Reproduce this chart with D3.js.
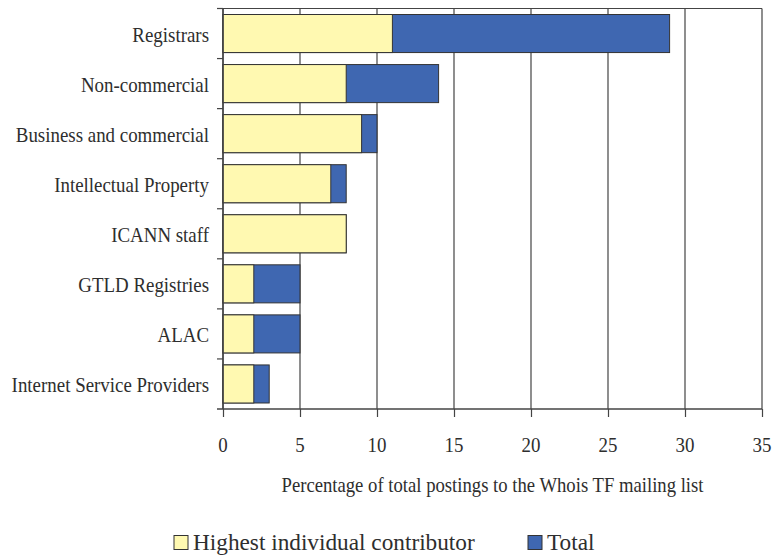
<!DOCTYPE html>
<html><head><meta charset="utf-8">
<script src="https://cdn.jsdelivr.net/npm/d3@7/dist/d3.min.js"></script>
<style>html,body{margin:0;padding:0;background:#fff;}svg{display:block;}</style>
</head><body>
<svg id="chart" width="780" height="556"></svg>
<script>
const categories = ["Registrars","Non-commercial","Business and commercial","Intellectual Property","ICANN staff","GTLD Registries","ALAC","Internet Service Providers"];
const highest = [11, 8, 9, 7, 8, 2, 2, 2];
const total = [29, 14, 10, 8, 8, 5, 5, 3];
const xTicks = [0, 5, 10, 15, 20, 25, 30, 35];
const seriesNames = ["Highest individual contributor", "Total"];
const xTitle = "Percentage of total postings to the Whois TF mailing list";

const colors = {highest: "#FFF9B1", total: "#3F67B1", stroke: "#333", grid: "#444", text: "#2e2e2e"};
const font = "'Liberation Serif','Times New Roman',serif";

const svg = d3.select("#chart");
const pLeft = 223, pRight = 762, pTop = 8.5, pBottom = 409;

const x = d3.scaleLinear().domain([0, 35]).range([pLeft, pRight]);
const y = d3.scaleBand().domain(categories).range([pTop, pBottom]).paddingInner(0.24).paddingOuter(0.12);
const yb = d3.scaleBand().domain(categories).range([pTop, pBottom]);

function txt(g, x0, y0, s, size, sx, anchor) {
  return g.append("text").attr("transform", `translate(${x0},${y0}) scale(${sx},1)`)
    .attr("text-anchor", anchor).attr("font-family", font).attr("font-size", size)
    .attr("fill", colors.text).text(s);
}

// gridlines
svg.append("g").selectAll("line").data(xTicks).join("line")
  .attr("x1", d => x(d)).attr("x2", d => x(d)).attr("y1", pTop).attr("y2", pBottom)
  .attr("stroke", colors.grid).attr("stroke-width", 1.2);
// top border
svg.append("line").attr("x1", pLeft).attr("x2", pRight).attr("y1", pTop).attr("y2", pTop)
  .attr("stroke", colors.grid).attr("stroke-width", 1.2);

// bars
const bars = svg.append("g");
bars.selectAll("rect.total").data(categories).join("rect").attr("class","total")
  .attr("x", x(0)).attr("y", d => y(d)).attr("height", y.bandwidth())
  .attr("width", (d,i) => x(total[i]) - x(0))
  .attr("fill", colors.total).attr("stroke", colors.stroke).attr("stroke-width", 1);
bars.selectAll("rect.high").data(categories).join("rect").attr("class","high")
  .attr("x", x(0)).attr("y", d => y(d)).attr("height", y.bandwidth())
  .attr("width", (d,i) => x(highest[i]) - x(0))
  .attr("fill", colors.highest).attr("stroke", colors.stroke).attr("stroke-width", 1);

// x axis
const xa = svg.append("g").attr("transform", `translate(0,${pBottom})`)
  .call(d3.axisBottom(x).tickValues(xTicks).tickSize(8).tickFormat(""));
xa.select(".domain").attr("stroke", colors.grid).attr("stroke-width", 1.5).attr("d", `M${pLeft-6},0H${pRight}`);
xa.selectAll(".tick line").attr("stroke", colors.grid).attr("stroke-width", 1.2);
xTicks.forEach(t => txt(svg, x(t), 452, String(t), 22, 0.86, "middle"));

// y axis
const ya = svg.append("g").attr("transform", `translate(${pLeft},0)`)
  .call(d3.axisLeft(yb).tickSize(0).tickFormat(""));
ya.select(".domain").attr("stroke", colors.grid).attr("stroke-width", 1.5).attr("d", `M0,${pTop}V${pBottom}`);
const yTickPos = categories.map(c => yb(c));
svg.append("g").selectAll("line").data(yTickPos).join("line")
  .attr("x1", pLeft - 6).attr("x2", pLeft).attr("y1", d => d).attr("y2", d => d)
  .attr("stroke", colors.grid).attr("stroke-width", 1.2);
categories.forEach(c => txt(svg, 209, yb(c) + yb.bandwidth()/2 + 8, c, 22, 0.86, "end"));

// x title
txt(svg, (pLeft + pRight)/2, 492, xTitle, 21, 0.89, "middle");

// legend
const leg = [{name: seriesNames[0], color: colors.highest, x: 174}, {name: seriesNames[1], color: colors.total, x: 528}];
leg.forEach(l => {
  svg.append("rect").attr("x", l.x).attr("y", 535.5).attr("width", 14).attr("height", 14)
    .attr("fill", l.color).attr("stroke", colors.stroke).attr("stroke-width", 1);
  txt(svg, l.x + 19, 549.5, l.name, 24, 0.97, "start");
});
</script>
</body></html>
